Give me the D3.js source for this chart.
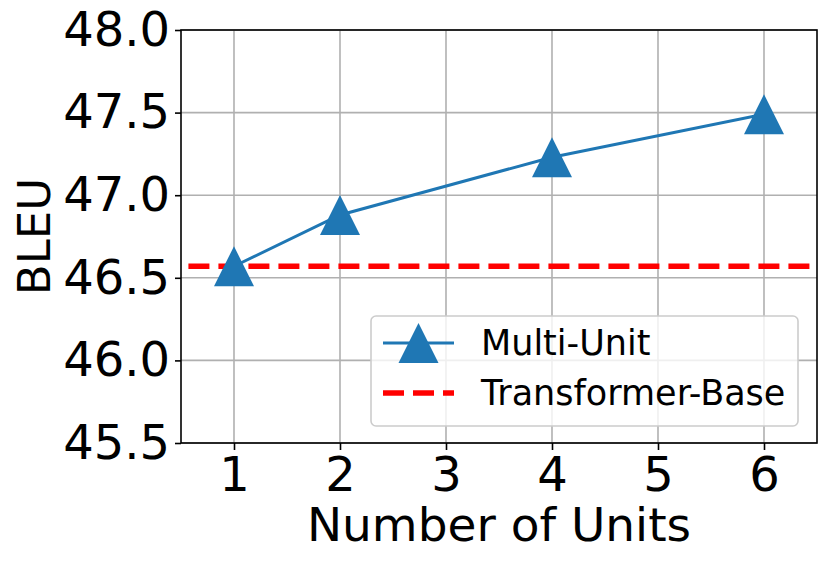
<!DOCTYPE html>
<html>
<head>
<meta charset="utf-8">
<script src="https://cdn.jsdelivr.net/npm/d3@7"></script>
<style>
  body { margin: 0; background: #fff; }
  text { font-family: "DejaVu Sans", sans-serif; fill: #000; }
</style>
</head>
<body>
<div id="chart"></div>
<script>
// datos
var units = [1, 2, 4, 6];
var bleu = [46.57, 46.88, 47.23, 47.49];
var baseX = [0.57, 6.5];
var baseBleu = 46.57;
var xTicks = [1, 2, 3, 4, 5, 6];
var yTicks = [45.5, 46.0, 46.5, 47.0, 47.5, 48.0];
var seriesNames = ["Multi-Unit", "Transformer-Base"];

var width = 830, height = 568;
var margin = {top: 30, right: 13, bottom: 125, left: 181};

var svg = d3.select("#chart").append("svg")
  .attr("width", width)
  .attr("height", height);

svg.append("rect").attr("width", width).attr("height", height).attr("fill", "#fff");

// escalas
var eX = d3.scaleLinear().domain([0.5, 6.5]).range([margin.left, width - margin.right]);
var eY = d3.scaleLinear().domain([45.5, 48.0]).range([height - margin.bottom, margin.top]);

// rejilla
svg.append("g").selectAll("line").data(xTicks).enter().append("line")
  .attr("x1", d => eX(d)).attr("x2", d => eX(d))
  .attr("y1", eY(45.5)).attr("y2", eY(48.0))
  .attr("stroke", "#b0b0b0").attr("stroke-width", 1.6);
svg.append("g").selectAll("line").data(yTicks).enter().append("line")
  .attr("x1", eX(0.5)).attr("x2", eX(6.5))
  .attr("y1", d => eY(d)).attr("y2", d => eY(d))
  .attr("stroke", "#b0b0b0").attr("stroke-width", 1.6);

// ejes
var xAxis = d3.axisBottom(eX).tickValues(xTicks).tickSize(7).tickPadding(7).tickFormat(d3.format("d"));
var yAxis = d3.axisLeft(eY).tickValues(yTicks).tickSize(6).tickPadding(5).tickFormat(d3.format(".1f"));

var gx = svg.append("g").attr("transform", "translate(0," + eY(45.5) + ")").call(xAxis);
var gy = svg.append("g").attr("transform", "translate(" + eX(0.5) + ",0)").call(yAxis);
[gx, gy].forEach(function(g) {
  g.select(".domain").remove();
  g.selectAll(".tick line").attr("stroke", "#000").attr("stroke-width", 1.6);
  g.selectAll(".tick text").style("font-size", "48px").attr("fill", "#000");
});
gx.selectAll(".tick text").attr("dy", "0.71em");

// linea base
svg.append("line")
  .attr("x1", eX(baseX[0])).attr("x2", eX(baseX[1]))
  .attr("y1", eY(baseBleu)).attr("y2", eY(baseBleu))
  .attr("stroke", "#ff0000").attr("stroke-width", 5.6)
  .attr("stroke-dasharray", "21,9");

// serie
var line = d3.line().x(d => eX(d[0])).y(d => eY(d[1]));
var pts = units.map((u, i) => [u, bleu[i]]);
svg.append("path").datum(pts)
  .attr("d", line).attr("fill", "none")
  .attr("stroke", "#1f77b4").attr("stroke-width", 3);

function tri(cx, cy, s) {
  return "M" + cx + "," + (cy - s / 2) + "L" + (cx + s / 2) + "," + (cy + s / 2) + "L" + (cx - s / 2) + "," + (cy + s / 2) + "Z";
}
svg.append("g").selectAll("path").data(pts).enter().append("path")
  .attr("d", d => tri(eX(d[0]), eY(d[1]), 40))
  .attr("fill", "#1f77b4");

// marco
svg.append("rect")
  .attr("x", eX(0.5)).attr("y", eY(48.0))
  .attr("width", eX(6.5) - eX(0.5)).attr("height", eY(45.5) - eY(48.0))
  .attr("fill", "none").attr("stroke", "#000").attr("stroke-width", 1.6);

// leyenda
var lg = svg.append("g").attr("transform", "translate(371,316)");
lg.append("rect").attr("width", 427).attr("height", 110).attr("rx", 5)
  .attr("fill", "#fff").attr("fill-opacity", 0.8)
  .attr("stroke", "#cccccc").attr("stroke-width", 1.6);
lg.append("line").attr("x1", 12).attr("x2", 83).attr("y1", 27).attr("y2", 27)
  .attr("stroke", "#1f77b4").attr("stroke-width", 3);
lg.append("path").attr("d", tri(47.5, 27, 40)).attr("fill", "#1f77b4");
lg.append("line").attr("x1", 12).attr("x2", 83).attr("y1", 77).attr("y2", 77)
  .attr("stroke", "#ff0000").attr("stroke-width", 5.6).attr("stroke-dasharray", "21,9");
lg.selectAll(".lt").data(seriesNames).enter().append("text")
  .attr("x", 110).attr("y", (d, i) => 39 + i * 50)
  .style("font-size", "35px").text(d => d);

// titulos de ejes
svg.append("text")
  .attr("x", (eX(0.5) + eX(6.5)) / 2).attr("y", 541)
  .attr("text-anchor", "middle").style("font-size", "47px")
  .text("Number of Units");
svg.append("text")
  .attr("transform", "translate(50," + (eY(45.5) + eY(48.0)) / 2 + ") rotate(-90)")
  .attr("text-anchor", "middle").style("font-size", "45px")
  .text("BLEU");
</script>
</body>
</html>
